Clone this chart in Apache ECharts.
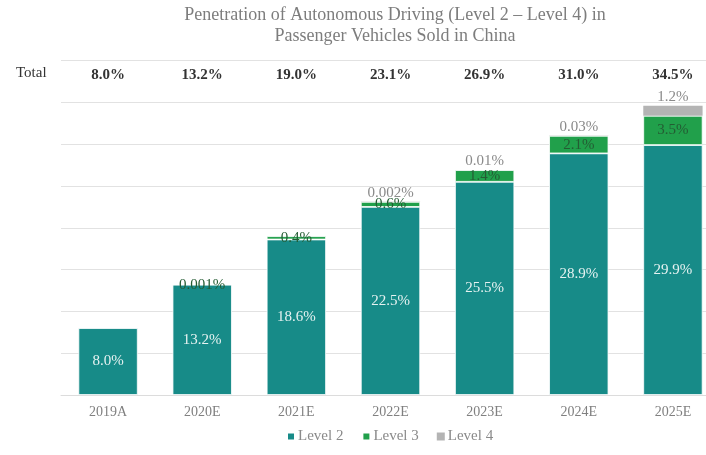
<!DOCTYPE html>
<html><head><meta charset="utf-8">
<script src="https://cdn.jsdelivr.net/npm/echarts@6/dist/echarts.min.js"></script>
<style>html,body{margin:0;padding:0;background:#fff;overflow:hidden}#c{width:706px;height:455px}</style>
</head><body><div id="c"></div>
<script>
var categories = ['2019A','2020E','2021E','2022E','2023E','2024E','2025E'];
var level2 = [8.0, 13.2, 18.6, 22.5, 25.5, 28.9, 29.9];
var level3 = [null, 0.001, 0.4, 0.6, 1.4, 2.1, 3.5];
var level4 = [null, null, null, 0.002, 0.01, 0.03, 1.2];
var totals = ['8.0%','13.2%','19.0%','23.1%','26.9%','31.0%','34.5%'];

var serif = '"Liberation Serif","Times New Roman",serif';
var chart = echarts.init(document.getElementById('c'));
function fmt(v){ return v.toFixed(1) + '%'; }
chart.setOption({
  animation: false,
  title: {
    text: 'Penetration of Autonomous Driving (Level 2 \u2013 Level 4) in\nPassenger Vehicles Sold in China',
    left: 390, top: 0, textAlign: 'center',
    textStyle: {fontFamily: serif, fontSize: 18, fontWeight: 'normal', color: '#7d7d7d', lineHeight: 21}
  },
  graphic: [{type: 'text', left: 16, top: 66, style: {text: 'Total', font: '15px ' + serif, fill: '#333'}}],
  legend: {
    bottom: 6, left: 281,
    itemWidth: 8, itemHeight: 8, itemGap: 18,
    icon: 'rect',
    textStyle: {fontFamily: serif, fontSize: 15, color: '#8a8a8a', padding: [0,0,0,-2]},
    data: ['Level 2','Level 3','Level 4']
  },
  grid: {left: 61, width: 659, top: 60.6, bottom: 60, containLabel: false, outerBoundsMode: 'none'},
  xAxis: [{
    type: 'category', data: categories,
    axisLine: {lineStyle: {color: '#dcdcdc', width: 1}},
    axisTick: {show: false},
    axisLabel: {fontFamily: serif, fontSize: 14, color: '#808080', margin: 10}
  }, {
    type: 'category', data: totals, position: 'top',
    axisLine: {show: false}, axisTick: {show: false},
    axisLabel: {inside: true, margin: 7, fontFamily: serif, fontSize: 15, fontWeight: 'bold', color: '#333'}
  }],
  yAxis: {
    type: 'value', min: 0, max: 40, interval: 5,
    axisLabel: {show: false}, axisLine: {show: false}, axisTick: {show: false},
    splitLine: {lineStyle: {color: '#e2e2e2', width: 1}}
  },
  series: [{
    name: 'Level 2', type: 'bar', stack: 't', data: level2, barWidth: '63%',
    itemStyle: {color: '#178b88', borderColor: '#ffffff', borderWidth: 0.8},
    label: {show: true, position: 'inside', formatter: function(p){return fmt(p.value);}, fontFamily: serif, fontSize: 15, color: '#e6f2f1'}
  }, {
    name: 'Level 3', type: 'bar', stack: 't', data: level3,
    itemStyle: {color: '#21a04b', borderColor: '#ffffff', borderWidth: 0.8},
    label: {show: true, position: 'inside', formatter: function(p){ if(p.value==null) return ''; return p.value < 0.01 ? p.value + '%' : fmt(p.value);}, fontFamily: serif, fontSize: 15, color: '#245c33'}
  }, {
    name: 'Level 4', type: 'bar', stack: 't', data: level4,
    itemStyle: {color: '#b4b4b4'},
    label: {show: true, position: 'top', distance: 1, formatter: function(p){ if(p.value==null) return ''; return p.value >= 0.1 ? fmt(p.value) : p.value + '%';}, fontFamily: serif, fontSize: 15, color: '#8a8a8a'}
  }]
});
</script></body></html>
